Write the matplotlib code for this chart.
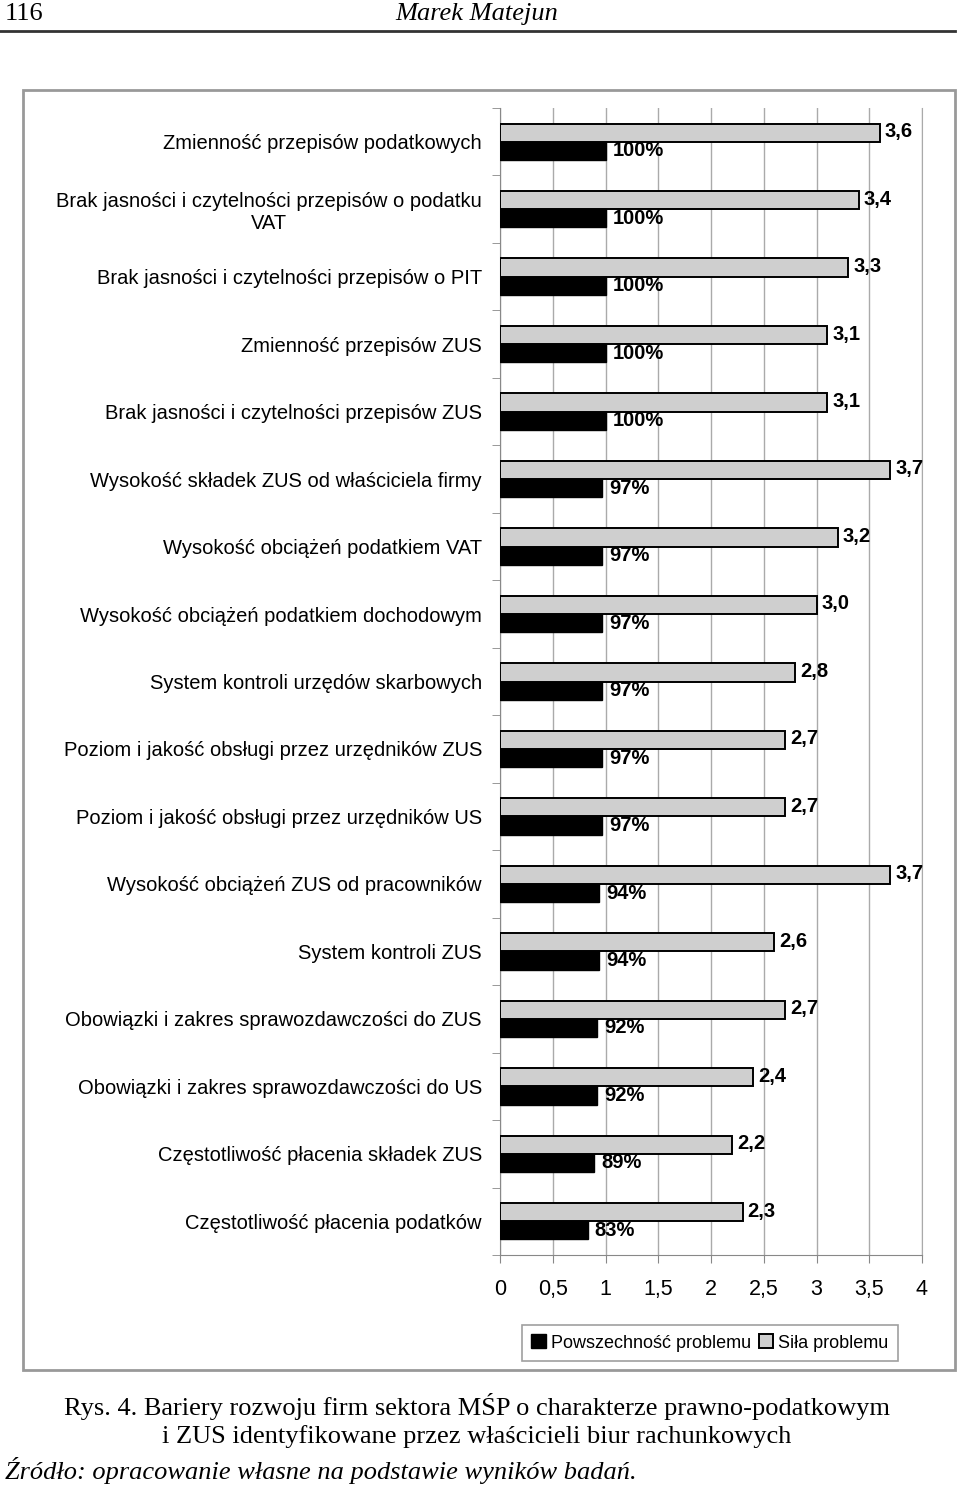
import matplotlib.pyplot as plt
from matplotlib.patches import Patch, Rectangle
from matplotlib.lines import Line2D
from matplotlib.ticker import FixedLocator
from matplotlib import transforms

# data
categories = [
    'Zmienność przepisów podatkowych',
    'Brak jasności i czytelności przepisów o podatku\nVAT',
    'Brak jasności i czytelności przepisów o PIT',
    'Zmienność przepisów ZUS',
    'Brak jasności i czytelności przepisów ZUS',
    'Wysokość składek ZUS od właściciela firmy',
    'Wysokość obciążeń podatkiem VAT',
    'Wysokość obciążeń podatkiem dochodowym',
    'System kontroli urzędów skarbowych',
    'Poziom i jakość obsługi przez urzędników ZUS',
    'Poziom i jakość obsługi przez urzędników US',
    'Wysokość obciążeń ZUS od pracowników',
    'System kontroli ZUS',
    'Obowiązki i zakres sprawozdawczości do ZUS',
    'Obowiązki i zakres sprawozdawczości do US',
    'Częstotliwość płacenia składek ZUS',
    'Częstotliwość płacenia podatków',
]
powszechnosc = [100, 100, 100, 100, 100, 97, 97, 97, 97, 97, 97, 94, 94, 92, 92, 89, 83]
sila = [3.6, 3.4, 3.3, 3.1, 3.1, 3.7, 3.2, 3.0, 2.8, 2.7, 2.7, 3.7, 2.6, 2.7, 2.4, 2.2, 2.3]
xticks = [0, 0.5, 1, 1.5, 2, 2.5, 3, 3.5, 4]

sans = 'Liberation Sans'
serif = 'Liberation Serif'

fig = plt.figure(figsize=(9.6, 14.88), dpi=100)
ax = fig.add_axes([500/960, 1 - 1255/1488, 422/960, 1147/1488])

pos = list(range(len(categories)))
h = 0.27
ax.barh([p - h/2 for p in pos], sila, height=h, color='#cfcfcf', edgecolor='black', linewidth=1.4, zorder=3)
ax.barh([p + h/2 for p in pos], [v/100 for v in powszechnosc], height=h, color='black', edgecolor='black', zorder=3)

# value labels
off_g = transforms.offset_copy(ax.transData, fig=fig, x=5, y=1, units='dots')
off_b = transforms.offset_copy(ax.transData, fig=fig, x=7, y=0, units='dots')
for p, s, b in zip(pos, sila, powszechnosc):
    ax.text(s, p - h/2, f'{s:.1f}'.replace('.', ','), transform=off_g, va='center', ha='left',
            fontsize=14.5, fontweight='bold', family=sans, zorder=4)
    ax.text(b/100, p + h/2, f'{b}%', transform=off_b, va='center', ha='left',
            fontsize=14.5, fontweight='bold', family=sans, zorder=4)

ax.set_xlim(0, 4)
ax.set_ylim(len(categories) - 0.5, -0.5)
ax.set_xticks(xticks)
ax.set_xticklabels([f'{t:g}'.replace('.', ',') for t in xticks], family=sans, fontsize=15.5)
ax.set_yticks(pos)
ax.set_yticklabels(categories, family=sans, fontsize=14.5, multialignment='center')
ax.yaxis.set_minor_locator(FixedLocator([p - 0.5 for p in pos] + [len(pos) - 0.5]))
ax.tick_params(axis='y', which='major', length=0, pad=13)
ax.tick_params(axis='y', which='minor', length=6, color='#888888')
ax.tick_params(axis='x', length=6, color='#888888', pad=11)
ax.grid(axis='x', color='#aaaaaa', linewidth=1, zorder=0)
ax.spines['top'].set_visible(False)
ax.spines['right'].set_color('#aaaaaa')
ax.spines['left'].set_color('#888888')
ax.spines['bottom'].set_color('#888888')

handles = [Patch(facecolor='black', edgecolor='black'),
           Patch(facecolor='#cfcfcf', edgecolor='black', linewidth=1.4)]
leg = ax.legend(handles, ['Powszechność problemu', 'Siła problemu'], ncol=2,
                loc='center', bbox_to_anchor=(0.4976, -0.0767), frameon=True, fancybox=False,
                prop={'family': sans, 'size': 13}, handlelength=0.8, handleheight=0.8,
                handletextpad=0.3, columnspacing=0.4, borderpad=0.5)
leg.get_frame().set_edgecolor('#888888')
leg.get_frame().set_linewidth(1.2)

# frame around the chart
fig.add_artist(Rectangle((23/960, 1 - 1370/1488), 932/960, 1280/1488, transform=fig.transFigure,
                         fill=False, edgecolor='#999999', linewidth=2))

# page header
fig.text(5/960, 1 - 14/1488, '116', family=serif, fontsize=19, va='center', ha='left')
fig.text(477/960, 1 - 14/1488, 'Marek Matejun', family=serif, fontsize=19, style='italic', va='center', ha='center')
fig.add_artist(Line2D([0, 955/960], [1 - 31/1488, 1 - 31/1488], color='#333333', linewidth=2))

# caption
fig.text(477/960, 1 - 1407/1488, 'Rys. 4. Bariery rozwoju firm sektora MŚP o charakterze prawno-podatkowym',
         family=serif, fontsize=19, va='center', ha='center')
fig.text(477/960, 1 - 1437/1488, 'i ZUS identyfikowane przez właścicieli biur rachunkowych',
         family=serif, fontsize=19, va='center', ha='center')
fig.text(5/960, 1 - 1470/1488, 'Źródło: opracowanie własne na podstawie wyników badań.',
         family=serif, fontsize=19, style='italic', va='center', ha='left')

fig.savefig('out.png', dpi=100)
